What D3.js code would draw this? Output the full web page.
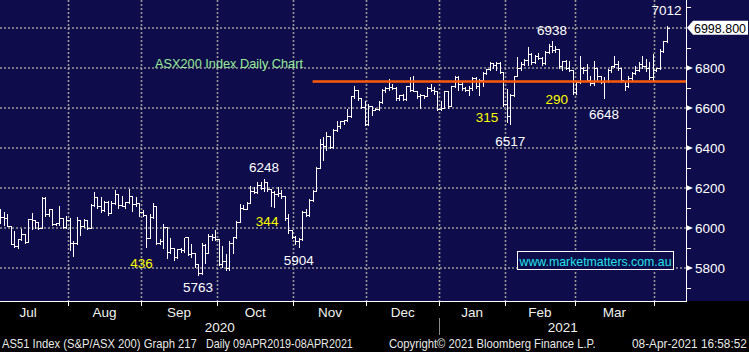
<!DOCTYPE html>
<html>
<head>
<meta charset="utf-8">
<script src="https://cdn.jsdelivr.net/npm/d3@7"></script>
<style>
body{margin:0;background:#000}
svg{display:block;font-family:"Liberation Sans",Arial,sans-serif}
</style>
</head>
<body>
<script>
// daily bars per month: [open, high, low, close]
const julBars=[[6070,6098,6023,6053],[6053,6082,6015,6048],[6048,6073,6010,6012],[6012,6012,5918,5920],
 [5920,5990,5905,5912],[5912,5948,5898,5945],[5945,5998,5940,5970],[5970,5977,5923,5930],
 [5930,6048,5928,6045],[6045,6078,5993,6040],[6040,6042,5998,6030],[6030,6032,5993,6000],
 [6000,6157,5998,6150],[6150,6157,6057,6070],[6070,6098,6057,6095],[6095,6098,6015,6020],
 [6020,6032,6015,6025],[6025,6115,6015,6050],[6050,6050,5998,6005],[6005,6065,6002,6040]]
const augBars=[[6040,6053,5890,5927],[5927,5940,5860,5923],[5923,6060,5920,6040],[6040,6040,5965,6010],
 [6010,6048,6007,6040],[6040,6043,5993,6000],[6000,6123,5998,6115],[6115,6185,6107,6155],
 [6155,6157,6098,6110],[6110,6160,6078,6090],[6090,6140,6082,6130],[6130,6137,6065,6075],
 [6075,6137,6073,6125],[6125,6193,6120,6170],[6170,6170,6098,6115],[6115,6165,6107,6110],
 [6110,6132,6098,6128],[6128,6198,6123,6160],[6160,6160,6082,6120],[6120,6160,6110,6125],
 [6125,6125,6057,6080]]
const sepBars=[[6080,6093,6057,6065],[6065,6065,5907,5950],[5950,6073,5948,6055],[6055,6128,6050,6110],
 [6110,6110,5920,5925],[5925,5948,5920,5935],[5935,6023,5898,6003],[6003,6003,5848,5878],
 [5878,5957,5873,5900],[5900,5907,5840,5855],[5855,5898,5850,5893],[5893,5903,5882,5890],
 [5890,5957,5882,5955],[5955,5955,5865,5870],[5870,5923,5857,5875],[5875,5875,5807,5820],
 [5820,5823,5763,5775],[5775,5932,5770,5915],[5915,5923,5823,5875],[5875,5973,5873,5960],
 [5960,5977,5940,5955],[5955,5993,5940,5945]]
const octBars=[[5945,5948,5815,5820],[5820,5915,5807,5835],[5835,5873,5790,5800],[5800,5940,5790,5925],
 [5925,5960,5873,5955],[5955,6040,5950,6032],[6032,6123,6030,6100],[6100,6120,6093,6095],
 [6095,6132,6093,6125],[6125,6215,6123,6185],[6185,6207,6173,6180],[6180,6232,6173,6215],
 [6215,6232,6195,6200],[6200,6248,6182,6230],[6230,6232,6182,6195],[6195,6200,6107,6180],
 [6180,6190,6103,6170],[6170,6207,6157,6175],[6175,6195,6150,6160],[6160,6160,6040,6050],
 [6050,6073,5973,5990],[5990,5995,5948,5955]]
const novBars=[[5955,5965,5920,5935],[5935,5957,5904,5945],[5945,6090,5940,6080],[6080,6100,6057,6065],
 [6065,6148,6060,6140],[6140,6195,6135,6185],[6185,6310,6185,6300],[6300,6448,6298,6420],
 [6420,6457,6340,6410],[6410,6482,6390,6460],[6460,6465,6398,6405],[6405,6500,6400,6490],
 [6490,6540,6485,6507],[6507,6540,6500,6535],[6535,6545,6520,6540],[6540,6598,6535,6560],
 [6560,6665,6555,6660],[6660,6715,6648,6690],[6690,6690,6640,6650],[6650,6650,6598,6605],
 [6605,6640,6515,6520]]
const decBars=[[6520,6623,6515,6610],[6610,6615,6565,6590],[6590,6605,6587,6595],[6595,6640,6590,6630],
 [6630,6698,6625,6690],[6690,6707,6680,6700],[6700,6748,6690,6705],[6705,6725,6695,6700],
 [6700,6707,6640,6650],[6650,6670,6640,6665],[6665,6673,6640,6645],[6645,6715,6640,6710],
 [6710,6757,6682,6690],[6690,6765,6682,6685],[6685,6690,6648,6660],[6660,6673,6598,6665],
 [6665,6670,6650,6660],[6660,6707,6657,6700],[6700,6723,6682,6690],[6690,6710,6670,6685],
 [6685,6690,6590,6595]]
const janBars=[[6595,6640,6590,6600],[6600,6690,6598,6685],[6685,6690,6598,6610],[6610,6715,6607,6710],
 [6710,6765,6705,6755],[6755,6765,6690,6720],[6720,6735,6690,6700],[6700,6710,6682,6690],
 [6690,6715,6665,6700],[6700,6757,6690,6750],[6750,6757,6700,6710],[6710,6748,6665,6740],
 [6740,6782,6707,6775],[6775,6800,6770,6795],[6795,6832,6790,6825],[6825,6830,6800,6815],
 [6815,6832,6790,6825],[6825,6835,6775,6780],[6780,6782,6607,6620]]
const febBars=[[6620,6700,6530,6560],[6560,6673,6517,6665],[6665,6765,6660,6760],[6760,6857,6760,6800],
 [6800,6835,6790,6820],[6820,6850,6815,6840],[6840,6907,6815,6870],[6870,6880,6820,6830],
 [6830,6870,6825,6860],[6860,6880,6845,6850],[6850,6860,6815,6825],[6825,6890,6820,6880],
 [6880,6923,6873,6910],[6910,6938,6880,6890],[6890,6915,6880,6895],[6895,6895,6798,6810],
 [6810,6840,6790,6835],[6835,6845,6795,6800],[6800,6840,6785,6790],[6790,6792,6670,6680]]
const marBars=[[6680,6740,6670,6730],[6730,6865,6725,6800],[6800,6810,6775,6790],[6790,6823,6732,6740],
 [6740,6765,6715,6725],[6725,6840,6715,6800],[6800,6800,6740,6760],[6760,6765,6725,6730],
 [6730,6757,6648,6735],[6735,6800,6730,6790],[6790,6815,6780,6810],[6810,6865,6805,6820],
 [6820,6840,6790,6800],[6800,6800,6730,6740],[6735,6740,6690,6710],[6710,6765,6705,6750],
 [6750,6782,6740,6775],[6775,6815,6770,6790],[6790,6832,6785,6820],[6820,6865,6800,6810],
 [6810,6850,6782,6800],[6800,6832,6745,6755],[6755,6873,6740,6790]]
const aprBars=[[6790,6802,6785,6800],[6800,6898,6795,6885],[6885,6940,6880,6935],[6935,7012,6930,6998.8]]

// month label, bars, trading days of the month before the first visible bar
const months=[
  {label:'Jul',bars:julBars,hidden:3},{label:'Aug',bars:augBars},{label:'Sep',bars:sepBars},
  {label:'Oct',bars:octBars},{label:'Nov',bars:novBars},{label:'Dec',bars:decBars},
  {label:'Jan',bars:janBars,year:'2021'},{label:'Feb',bars:febBars},{label:'Mar',bars:marBars},
  {label:'',bars:aprBars}]
const years=['2020','2021']

const majorTicks=[5800,6000,6200,6400,6600,6800,7000]
const minorTicks=[5700,5900,6100,6300,6500,6700,6900,7100]
const lastPrice=6998.8
const supportLevel=6730, supportFrom=90

const extremes=[
  {t:'6248',i:76,v:6248,dy:-6},{t:'7012',i:192,v:7012,dy:-10},{t:'6938',i:159,v:6938,dy:-5},
  {t:'6517',i:147,v:6517,dy:22},{t:'6648',i:174,v:6648,dy:21},{t:'5763',i:57,v:5763,dy:17},
  {t:'5904',i:86,v:5904,dy:18}]
const moves=[{t:'436',i:40.7,v:5800},{t:'344',i:76.9,v:6010},{t:'315',i:140.3,v:6530},{t:'290',i:160.4,v:6620}]

const W=749,H=352,plotR=686,plotB=301
const svg=d3.select('body').append('svg').attr('width',W).attr('height',H)
svg.append('rect').attr('width',W).attr('height',H).attr('fill','#000')
svg.append('rect').attr('width',W).attr('height',plotB).attr('fill','#0e0c4a')

// flatten
const bars=[],marks=[]
let idx=0
months.forEach(m=>{
  const first=idx
  m.bars.forEach(b=>bars.push({i:idx++,o:b[0],h:b[1],l:b[2],c:b[3]}))
  const hid=m.hidden||0
  marks.push({label:m.label,first,start:first-hid,n:m.bars.length+hid,year:m.year})
})

const x=d3.scaleLinear().domain([0,bars.length-1]).range([0.3,666.5])
const step=x(1)-x(0)
const y=d3.scaleLinear().domain([5800,7000]).range([268,27.5])
const bound=m=>Math.round(x(m.first)-step/2)+0.5

// grid
const grid=svg.append('g').attr('stroke','#9a9a9a').attr('stroke-width',1.6).attr('stroke-dasharray','2,2')
grid.selectAll('line.h').data(majorTicks).enter().append('line')
  .attr('x1',0).attr('x2',plotR).attr('y1',d=>Math.round(y(d))).attr('y2',d=>Math.round(y(d)))
grid.selectAll('line.v').data(marks.slice(1)).enter().append('line')
  .attr('x1',bound).attr('x2',bound).attr('y1',0).attr('y2',plotB)

// axes frame
svg.append('line').attr('x1',plotR+0.5).attr('x2',plotR+0.5).attr('y1',0).attr('y2',plotB+1).attr('stroke','#fff')
svg.append('line').attr('x1',0).attr('x2',plotR+1).attr('y1',plotB+0.5).attr('y2',plotB+0.5).attr('stroke','#fff')

// bars
const bx=d=>Math.round(x(d.i))+0.5
const py=v=>Math.round(y(v))+0.5
svg.append('g').selectAll('path').data(bars).enter().append('path')
  .attr('d',d=>`M${bx(d)},${py(d.h)}V${py(d.l)}M${bx(d)-2},${py(d.o)}H${bx(d)}M${bx(d)},${py(d.c)}H${bx(d)+2}`)
  .attr('stroke','#fff').attr('stroke-width',1).attr('fill','none').attr('shape-rendering','crispEdges')

// support line
svg.append('line').attr('x1',x(supportFrom)).attr('x2',plotR).attr('y1',y(supportLevel)).attr('y2',y(supportLevel))
  .attr('stroke','#ff5a0a').attr('stroke-width',2.5)

// right axis
const ax=svg.append('g')
ax.selectAll('line').data(minorTicks).enter().append('line')
  .attr('x1',plotR).attr('x2',plotR+5).attr('y1',d=>Math.round(y(d))+0.5).attr('y2',d=>Math.round(y(d))+0.5)
  .attr('stroke','#fff')
const labTicks=majorTicks.filter(d=>d<7000)
ax.selectAll('path').data(labTicks).enter().append('path')
  .attr('d',d=>{const v=Math.round(y(d));return `M${plotR},${v-3}L${plotR+7},${v}L${plotR},${v+3}Z`})
  .attr('fill','#fff')
ax.selectAll('text').data(labTicks).enter().append('text')
  .attr('x',695).attr('y',d=>y(d)+5).attr('fill','#fff').attr('font-size',13.5).text(d=>d)

// last price tag
const ly=y(lastPrice)
svg.append('path').attr('d',`M${plotR+1},${ly}L${plotR+7},${ly-7}H748V${ly+7}H${plotR+7}Z`).attr('fill','#fff')
svg.append('text').attr('x',694).attr('y',ly+5).attr('font-size',13.5).attr('fill','#000')
  .attr('textLength',52).attr('lengthAdjust','spacingAndGlyphs').text(lastPrice.toFixed(3))

// labels
svg.append('g').selectAll('text').data(extremes).enter().append('text')
  .attr('x',d=>x(d.i)).attr('y',d=>y(d.v)+d.dy).attr('text-anchor','middle')
  .attr('fill','#fff').attr('font-size',13.5).text(d=>d.t)
svg.append('g').selectAll('text').data(moves).enter().append('text')
  .attr('x',d=>x(d.i)).attr('y',d=>y(d.v)).attr('text-anchor','middle')
  .attr('fill','#ffff00').attr('font-size',13.5).text(d=>d.t)

svg.append('text').attr('x',155).attr('y',67.5).attr('fill','#96ec96').attr('font-size',13.5)
  .attr('textLength',148).attr('lengthAdjust','spacingAndGlyphs').text('ASX200 Index Daily Chart')

// watermark
svg.append('rect').attr('x',517.5).attr('y',251.5).attr('width',156).attr('height',18)
  .attr('fill','#0e0c4a').attr('stroke','#fff')
svg.append('text').attr('x',519.5).attr('y',265.5).attr('fill','#22e2ea').attr('font-size',13.5)
  .attr('textLength',152).attr('lengthAdjust','spacingAndGlyphs').text('www.marketmatters.com.au')

// bottom axis
svg.append('g').selectAll('line').data(marks.slice(1)).enter().append('line')
  .attr('x1',bound).attr('x2',bound).attr('y1',plotB).attr('y2',plotB+5).attr('stroke','#fff')
svg.append('g').selectAll('text').data(marks.filter(m=>m.label)).enter().append('text')
  .attr('x',m=>x(m.start+(m.n-1)/2)).attr('y',316.5).attr('text-anchor','middle')
  .attr('fill','#f0f0f0').attr('font-size',13.5).text(m=>m.label)
const yb=bound(marks.find(m=>m.year))
svg.append('line').attr('x1',yb).attr('x2',yb).attr('y1',318).attr('y2',335).attr('stroke','#8a8a8a')
svg.append('g').selectAll('text').data(years).enter().append('text')
  .attr('x',(d,i)=>i===0?yb/2:(yb+plotR)/2).attr('y',332).attr('text-anchor','middle')
  .attr('fill','#f0f0f0').attr('font-size',13.5).text(d=>d)

// footer, squeezed horizontally to the reference widths
const foot=[['AS51 Index (S&P/ASX 200) Graph 217',2,195],['Daily 09APR2019-08APR2021',206,147],
  ['Copyright\u00a9 2021 Bloomberg Finance L.P.',389,207],['08-Apr-2021 16:58:52',632,115]]
foot.forEach(f=>{
  const g=svg.append('g')
  const t=g.append('text').attr('x',0).attr('y',0).attr('fill','#e8e8e8').attr('font-size',13).text(f[0])
  const k=f[2]/t.node().getComputedTextLength()
  g.attr('transform',`translate(${f[1]},348) scale(${k},1)`)
})
</script>
</body>
</html>
